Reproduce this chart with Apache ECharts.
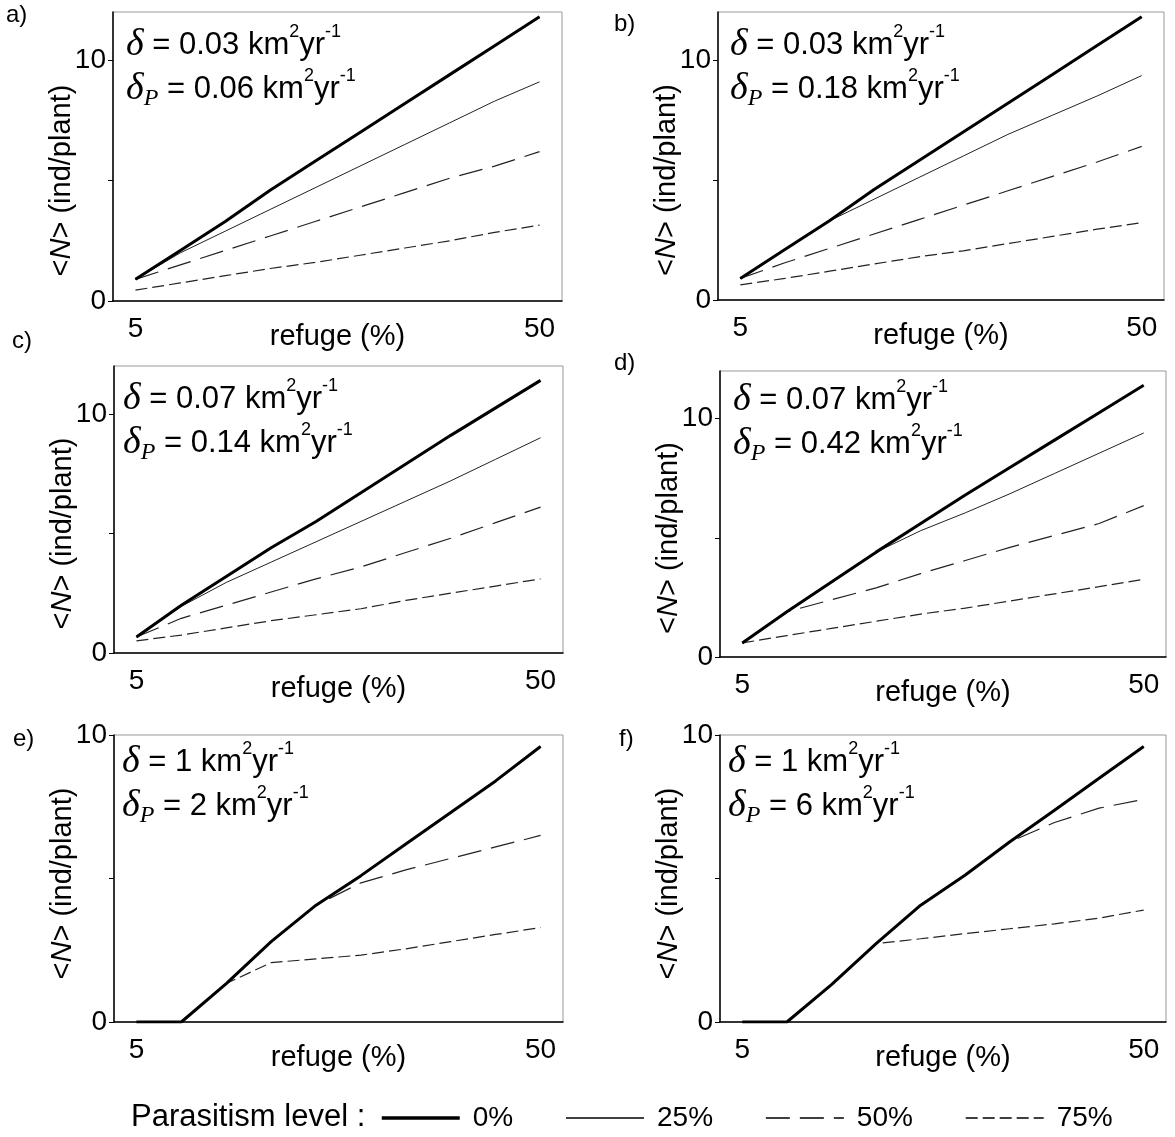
<!DOCTYPE html>
<html>
<head>
<meta charset="utf-8">
<script src="https://cdn.jsdelivr.net/npm/echarts@6/dist/echarts.min.js"></script>
<style>
  html, body { margin: 0; padding: 0; background: #fff; }
  #chart { width: 1175px; height: 1137px; }
</style>
</head>
<body>
<div id="chart"></div>
<script>
// refuge categories (%), only first and last are labelled
const refugeCats = ['5', '10', '15', '20', '25', '30', '35', '40', '45', '50'];
const xTickLabels = ['5', '50'];
const yTickLabels = [0, 10];
const yMaxes = [12, 12, 12, 12, 10, 10];
const panelLetters = ['a)', 'b)', 'c)', 'd)', 'e)', 'f)'];
const deltaValues = ['0.03', '0.03', '0.07', '0.07', '1', '1'];
const deltaPValues = ['0.06', '0.18', '0.14', '0.42', '2', '6'];
const levelNames = ['0%', '25%', '50%', '75%'];

// <N> per panel and parasitism level (0%, 25%, 50%, 75%)
const a0  = [0.9, 2.1, 3.3, 4.6, 5.8, 7.0, 8.2, 9.4, 10.6, 11.8];
const a25 = [0.9, 2.0, 2.9, 3.8, 4.7, 5.6, 6.5, 7.4, 8.3, 9.1];
const a50 = [0.9, 1.5, 2.1, 2.7, 3.3, 3.9, 4.5, 5.1, 5.6, 6.2];
const a75 = [0.45, 0.75, 1.05, 1.35, 1.6, 1.9, 2.2, 2.5, 2.85, 3.15];

const b0  = [0.9, 2.1, 3.3, 4.6, 5.8, 7.0, 8.2, 9.4, 10.6, 11.8];
const b25 = [0.9, 2.1, 3.3, 4.2, 5.1, 6.0, 6.9, 7.7, 8.5, 9.35];
const b50 = [0.9, 1.55, 2.15, 2.75, 3.35, 3.95, 4.55, 5.15, 5.75, 6.4];
const b75 = [0.63, 0.9, 1.2, 1.5, 1.8, 2.05, 2.35, 2.65, 2.95, 3.22];

const c0  = [0.67, 2.0, 3.2, 4.4, 5.5, 6.7, 7.9, 9.1, 10.25, 11.4];
const c25 = [0.67, 1.95, 2.95, 3.8, 4.65, 5.5, 6.35, 7.2, 8.1, 9.0];
const c50 = [0.67, 1.45, 2.0, 2.55, 3.1, 3.6, 4.2, 4.8, 5.45, 6.1];
const c75 = [0.51, 0.75, 1.05, 1.35, 1.6, 1.85, 2.2, 2.5, 2.8, 3.1];

const d0  = [0.59, 1.9, 3.15, 4.4, 5.6, 6.8, 7.95, 9.1, 10.25, 11.4];
const d25 = [0.59, 1.9, 3.15, 4.4, 5.3, 6.05, 6.85, 7.7, 8.55, 9.4];
const d50 = [0.59, 1.9, 2.4, 2.9, 3.5, 4.05, 4.6, 5.1, 5.6, 6.35];
const d75 = [0.59, 0.9, 1.2, 1.5, 1.8, 2.05, 2.35, 2.65, 2.95, 3.26];

const e0  = [0, 0, 1.34, 2.8, 4.07, 5.1, 6.2, 7.3, 8.4, 9.6];
const e25 = [0, 0, 1.34, 2.8, 4.07, 5.1, 6.2, 7.3, 8.4, 9.6];
const e50 = [0, 0, 1.34, 2.8, 4.07, 4.85, 5.3, 5.7, 6.1, 6.5];
const e75 = [0, 0, 1.34, 2.07, 2.2, 2.33, 2.55, 2.8, 3.05, 3.29];

const f0  = [0, 0, 1.3, 2.73, 4.07, 5.12, 6.28, 7.38, 8.49, 9.6];
const f25 = [0, 0, 1.3, 2.73, 4.07, 5.12, 6.28, 7.38, 8.49, 9.6];
const f50 = [0, 0, 1.3, 2.73, 4.07, 5.12, 6.28, 6.95, 7.45, 7.76];
const f75 = [0, 0, 1.3, 2.73, 2.9, 3.08, 3.25, 3.42, 3.62, 3.9];

const panelSeries = [
  [a0, a25, a50, a75],
  [b0, b25, b50, b75],
  [c0, c25, c50, c75],
  [d0, d25, d50, d75],
  [e0, e25, e50, e75],
  [f0, f25, f50, f75]
];

const FONT = '"Liberation Sans", Arial, sans-serif';
const SERIF = '"Liberation Serif", "Times New Roman", serif';

// plot boxes
const grids = [
  { left: 113, top: 12, width: 449, height: 289 },
  { left: 718, top: 12, width: 446, height: 288 },
  { left: 114, top: 366, width: 449, height: 287 },
  { left: 720, top: 371, width: 446, height: 286 },
  { left: 114, top: 735, width: 449, height: 287 },
  { left: 720, top: 735, width: 446, height: 287 }
];
const letterPos = [[6, 15], [614, 24], [12, 341], [614, 363], [13, 739], [619, 739]];
const notePos = [[126, 23], [730, 23], [123, 377], [733, 378], [122, 740], [728, 740]];

const lineStyles = [
  { width: 3, color: '#000', type: 'solid' },
  { width: 1, color: '#222', type: 'solid' },
  { width: 1.2, color: '#222', type: [24, 10] },
  { width: 1.2, color: '#222', type: [12, 5] }
];
const legendWidths = [3.5, 1.6, 1.6, 1.6];

const chart = echarts.init(document.getElementById('chart'));

const xAxes = [], yAxes = [], series = [], graphics = [];

grids.forEach((g, i) => {
  xAxes.push({
    type: 'category',
    gridIndex: i,
    data: refugeCats,
    boundaryGap: true,
    name: 'refuge (%)',
    nameLocation: 'middle',
    nameGap: 21,
    nameMoveOverlap: false,
    nameTextStyle: { fontSize: 29, fontFamily: FONT, color: '#000' },
    axisLine: { lineStyle: { color: '#000', width: 1.5 } },
    axisTick: { interval: 0, length: 5, lineStyle: { color: '#000', width: 1 } },
    axisLabel: {
      interval: (idx, val) => xTickLabels.includes(val),
      margin: 14,
      fontSize: 28,
      fontFamily: FONT,
      color: '#000'
    },
    splitLine: { show: false }
  });
  yAxes.push({
    type: 'value',
    gridIndex: i,
    min: 0,
    max: yMaxes[i],
    interval: 5,
    name: '<{i|N}> (ind/plant)',
    nameLocation: 'middle',
    nameGap: 37,
    nameMoveOverlap: false,
    nameTextStyle: {
      fontSize: 29, fontFamily: FONT, color: '#000',
      padding: yMaxes[i] > 10 ? [0, 48, 0, 0] : [0, 10, 0, 0],
      rich: { i: { fontStyle: 'italic', fontSize: 29, fontFamily: FONT, color: '#000' } }
    },
    axisLine: { show: true, lineStyle: { color: '#000', width: 1.5 } },
    axisTick: { show: true, length: 5, customValues: [0, 5, 10], lineStyle: { color: '#000' } },
    axisLabel: {
      customValues: yTickLabels,
      formatter: v => (yTickLabels.includes(v) ? String(v) : ''),
      margin: 7,
      fontSize: 28,
      fontFamily: FONT,
      color: '#000'
    },
    splitLine: { show: false }
  });
  // draw 0% last so the thick line stays on top
  [3, 2, 1, 0].forEach(k => {
    series.push({
      name: levelNames[k],
      type: 'line',
      xAxisIndex: i,
      yAxisIndex: i,
      data: panelSeries[i][k],
      symbol: 'none',
      showSymbol: false,
      lineStyle: lineStyles[k],
      itemStyle: { color: lineStyles[k].color },
      silent: true,
      animation: false,
      z: 10 - k
    });
  });
  graphics.push({
    type: 'text',
    x: letterPos[i][0],
    y: letterPos[i][1],
    style: { text: panelLetters[i], font: '24px ' + FONT, fill: '#000', verticalAlign: 'middle' }
  });
  graphics.push({
    type: 'text',
    x: notePos[i][0],
    y: notePos[i][1],
    style: {
      text: `{d|δ}{t| = ${deltaValues[i]} km}{s|2}{t|yr}{s|-1}\n{d|δ}{p|P}{t| = ${deltaPValues[i]} km}{s|2}{t|yr}{s|-1}`,
      fill: '#000',
      verticalAlign: 'top',
      rich: {
        d: { fontFamily: SERIF, fontStyle: 'italic', fontSize: 38, lineHeight: 44 },
        p: { fontFamily: SERIF, fontStyle: 'italic', fontSize: 24, lineHeight: 30, verticalAlign: 'bottom' },
        t: { fontFamily: FONT, fontSize: 31, lineHeight: 44 },
        s: { fontFamily: FONT, fontSize: 18, lineHeight: 28, verticalAlign: 'top' }
      }
    }
  });
});

graphics.push({
  type: 'text',
  x: 131,
  y: 1117,
  style: { text: 'Parasitism level :', font: '31px ' + FONT, fill: '#000', verticalAlign: 'middle' }
});

chart.setOption({
  backgroundColor: '#fff',
  animation: false,
  grid: grids.map(g => Object.assign({ show: true, borderColor: '#999', borderWidth: 1, containLabel: false }, g)),
  xAxis: xAxes,
  yAxis: yAxes,
  legend: {
    data: levelNames.map((name, k) => ({
      name: name,
      lineStyle: { width: legendWidths[k], color: '#000' }
    })),
    left: 375,
    top: 1099,
    itemWidth: 78,
    itemHeight: 14,
    itemGap: 52,
    selectedMode: false,
    itemStyle: { opacity: 0 },
    textStyle: { fontSize: 28, fontFamily: FONT, color: '#000', padding: [0, 0, 0, 8] }
  },
  graphic: graphics,
  series: series
});
</script>
</body>
</html>
